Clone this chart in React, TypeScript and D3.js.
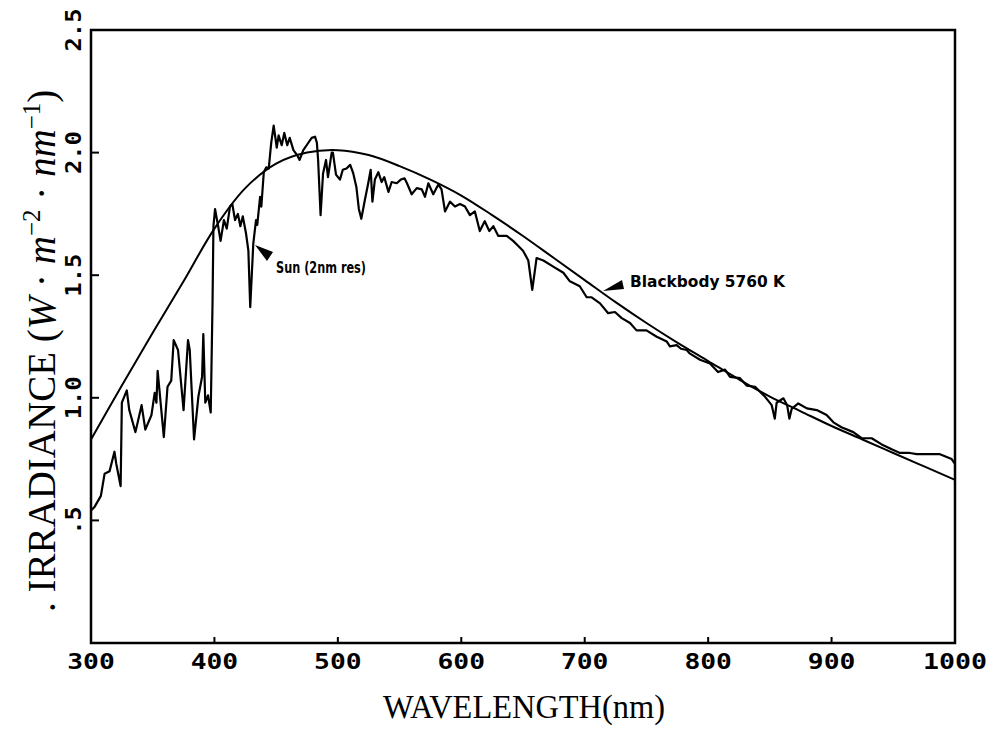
import React, { useEffect, useRef } from 'react';
import * as d3 from 'd3';

// solar spectrum (2nm res)
const sunWavelength = [
  300, 303, 308, 311, 315, 319, 320.5, 324, 325, 329, 331, 336, 341, 344, 349, 351.6, 353, 354, 359, 362,
  365, 367, 370.5, 375, 378.6, 380, 383.5, 387, 390, 391, 392.6, 394.8, 397, 398.5, 399.2, 400.5, 403, 405,
  407.7, 410, 412.6, 414.5, 416.7, 419, 421, 423, 425.6, 427.5, 429, 431.5, 433.7, 434.7, 437, 438, 440, 442,
  444, 446, 448, 450.5, 452, 454.5, 456.6, 459, 461, 464, 467, 469, 472, 474.7, 478.8, 481.5, 483, 484, 486,
  488, 490.4, 492, 495, 496, 498.5, 501.7, 504, 507, 510, 512.5, 515, 517, 519, 522, 524.6, 526.6, 528, 530,
  532.8, 535.5, 537.6, 541, 543.6, 547.7, 551, 554, 556, 559.8, 563.9, 568, 570.6, 573.3, 577.3, 581.4, 584,
  586.8, 590.8, 594.9, 599, 603, 607, 611, 615, 619, 622.7, 626, 630, 636.8, 642, 646, 650, 654.3, 657.5, 661,
  666.5, 674.5, 682.7, 688, 696, 701.6, 705.6, 712.4, 719, 724.5, 730, 736.7, 742, 750, 758, 766.4, 769, 774.5,
  778, 782.6, 785.3, 793.4, 801.5, 808, 813.7, 817.7, 825.8, 831.2, 838, 846, 851.5, 854, 855.5, 861, 864,
  865.8, 867.7, 873, 880, 888, 896, 901.5, 908, 917.6, 924.4, 932.5, 940.6, 948.7, 955.4, 963.5, 969, 977,
  987.8, 997.3, 1000,
];
const sunIrradiance = [
  0.54, 0.556, 0.6, 0.69, 0.7, 0.78, 0.73, 0.64, 0.98, 1.03, 0.95, 0.86, 0.97, 0.87, 0.93, 1.02, 0.98, 1.11, 0.84, 1.045,
  1.07, 1.235, 1.195, 0.95, 1.235, 1.195, 0.83, 1.005, 1.086, 1.26, 0.98, 1.01, 0.94, 1.4, 1.7, 1.77, 1.7, 1.64,
  1.725, 1.69, 1.78, 1.79, 1.725, 1.75, 1.7, 1.74, 1.67, 1.6, 1.37, 1.63, 1.725, 1.705, 1.82, 1.78, 1.92, 1.94,
  1.935, 2.04, 2.11, 2.02, 2.07, 2.03, 2.08, 2.03, 2.06, 2.01, 1.99, 1.97, 2.01, 2.03, 2.06, 2.065, 2.04, 1.97, 1.745,
  1.915, 1.97, 1.9, 2.0, 2.0, 1.91, 1.89, 1.93, 1.935, 1.95, 1.915, 1.86, 1.77, 1.73, 1.81, 1.875, 1.93, 1.8, 1.89,
  1.92, 1.88, 1.9, 1.84, 1.88, 1.875, 1.89, 1.895, 1.875, 1.83, 1.855, 1.85, 1.82, 1.875, 1.83, 1.87, 1.85,
  1.76, 1.8, 1.78, 1.79, 1.78, 1.745, 1.76, 1.68, 1.72, 1.68, 1.7, 1.66, 1.66, 1.64, 1.62, 1.6, 1.56, 1.44, 1.57,
  1.56, 1.535, 1.51, 1.475, 1.455, 1.41, 1.41, 1.385, 1.345, 1.35, 1.325, 1.305, 1.275, 1.275, 1.25, 1.23, 1.21, 1.215,
  1.2, 1.195, 1.18, 1.155, 1.14, 1.105, 1.115, 1.085, 1.08, 1.05, 1.045, 1.005, 0.97, 0.915, 0.98, 0.998, 0.97,
  0.915, 0.955, 0.977, 0.957, 0.95, 0.93, 0.9, 0.88, 0.86, 0.835, 0.835, 0.81, 0.79, 0.775, 0.775, 0.77, 0.77,
  0.77, 0.75, 0.73,
];

// blackbody 5760 K, every 25 nm
const bbWavelength = [
  300, 325, 350, 375, 400, 425, 450, 475, 500, 525, 550, 575, 600, 625, 650,
  675, 700, 725, 750, 775, 800, 825, 850, 875, 900, 925, 950, 975, 1000,
];
const bbIrradiance = [
  0.83, 1.05, 1.265, 1.475, 1.69, 1.855, 1.955, 2.0, 2.01, 1.99, 1.945, 1.89, 1.825, 1.745, 1.66,
  1.57, 1.48, 1.39, 1.305, 1.225, 1.15, 1.075, 1.005, 0.945, 0.885, 0.83, 0.775, 0.72, 0.665,
];

const xTickValues = [300, 400, 500, 600, 700, 800, 900, 1000];
const yTickValues = [0.5, 1.0, 1.5, 2.0, 2.5];
const yTickLabels = ['.5', '1.0', '1.5', '2.0', '2.5'];

const W = 995;
const H = 731;

export default function App() {
  const svgRef = useRef<SVGSVGElement>(null);

  useEffect(() => {
    if (!svgRef.current) return;
    const svg = d3.select(svgRef.current);
    svg.selectAll('*').remove();

    const x = d3.scaleLinear().domain([300, 1000]).range([91, 955]);
    const y = d3.scaleLinear().domain([0, 2.5]).range([643, 30]);

    svg.append('rect').attr('width', W).attr('height', H).attr('fill', '#fff');

    const tickFont = '"DejaVu Sans Mono", monospace';

    // frame
    svg.append('rect')
      .attr('x', x(300)).attr('y', y(2.5))
      .attr('width', x(1000) - x(300)).attr('height', y(0) - y(2.5))
      .attr('fill', 'none').attr('stroke', '#000').attr('stroke-width', 2.5);

    // x ticks (inward) + labels
    xTickValues.forEach(v => {
      svg.append('line')
        .attr('x1', x(v)).attr('x2', x(v)).attr('y1', y(0)).attr('y2', y(0) - 6)
        .attr('stroke', '#000').attr('stroke-width', 2);
      const s = String(v);
      svg.append('text')
        .attr('x', x(v)).attr('y', 669)
        .attr('text-anchor', 'middle')
        .attr('font-family', tickFont).attr('font-weight', 'bold').attr('font-size', 22)
        .attr('textLength', s.length * 16.5 - 2).attr('lengthAdjust', 'spacingAndGlyphs')
        .text(s);
    });

    // y ticks (inward) + rotated labels
    yTickValues.forEach((v, i) => {
      svg.append('line')
        .attr('x1', x(300)).attr('x2', x(300) + 8).attr('y1', y(v)).attr('y2', y(v))
        .attr('stroke', '#000').attr('stroke-width', 2);
      const s = yTickLabels[i];
      svg.append('text')
        .attr('transform', `translate(81,${y(v)}) rotate(-90)`)
        .attr('text-anchor', 'middle')
        .attr('font-family', tickFont).attr('font-weight', 'bold').attr('font-size', 22)
        .attr('textLength', s.length * 15 - 2).attr('lengthAdjust', 'spacingAndGlyphs')
        .text(s);
    });

    // blackbody curve
    const bbData = bbWavelength.map((w, i) => [w, bbIrradiance[i]] as [number, number]);
    const bbLine = d3.line<[number, number]>()
      .x(d => x(d[0])).y(d => y(d[1]))
      .curve(d3.curveCatmullRom);
    svg.append('path').datum(bbData)
      .attr('d', bbLine)
      .attr('fill', 'none').attr('stroke', '#000').attr('stroke-width', 2);

    // sun spectrum
    const sunData = sunWavelength.map((w, i) => [w, sunIrradiance[i]] as [number, number]);
    const sunLine = d3.line<[number, number]>()
      .x(d => x(d[0])).y(d => y(d[1]));
    svg.append('path').datum(sunData)
      .attr('d', sunLine)
      .attr('fill', 'none').attr('stroke', '#000').attr('stroke-width', 2.2)
      .attr('stroke-linejoin', 'round');

    // annotations
    svg.append('path').attr('d', 'M255,245 L273,252 L267,261 Z').attr('fill', '#000');
    svg.append('text')
      .attr('x', 276).attr('y', 273)
      .attr('font-family', '"DejaVu Sans", sans-serif').attr('font-weight', 'bold').attr('font-size', 15)
      .attr('textLength', 90).attr('lengthAdjust', 'spacingAndGlyphs')
      .text('Sun (2nm res)');

    svg.append('path').attr('d', 'M603,291 L622,280 L624,289 Z').attr('fill', '#000');
    svg.append('text')
      .attr('x', 630).attr('y', 287)
      .attr('font-family', '"DejaVu Sans", sans-serif').attr('font-weight', 'bold').attr('font-size', 16)
      .attr('textLength', 155).attr('lengthAdjust', 'spacingAndGlyphs')
      .text('Blackbody 5760 K');

    // axis titles
    svg.append('text')
      .attr('x', 524).attr('y', 718)
      .attr('text-anchor', 'middle')
      .attr('font-family', '"Liberation Serif", serif').attr('font-size', 33)
      .attr('textLength', 282).attr('lengthAdjust', 'spacingAndGlyphs')
      .text('WAVELENGTH(nm)');

    const yt = svg.append('text')
      .attr('transform', 'translate(55,612) rotate(-90)')
      .attr('font-family', '"Liberation Serif", serif').attr('font-size', 39);
    yt.append('tspan').text('. IRRADIANCE (');
    yt.append('tspan').attr('font-style', 'italic').text('W');
    yt.append('tspan').text(' · ');
    yt.append('tspan').attr('font-style', 'italic').text('m');
    yt.append('tspan').attr('font-size', 25).attr('dy', -15).text('−2');
    yt.append('tspan').attr('dy', 15).text(' · ');
    yt.append('tspan').attr('font-style', 'italic').text('nm');
    yt.append('tspan').attr('font-size', 25).attr('dy', -15).text('−1');
    yt.append('tspan').attr('dy', 15).text(')');
  }, []);

  return (
    <svg
      ref={svgRef}
      width={W}
      height={H}
      style={{ position: 'absolute', left: 0, top: 0, display: 'block' }}
    />
  );
}
